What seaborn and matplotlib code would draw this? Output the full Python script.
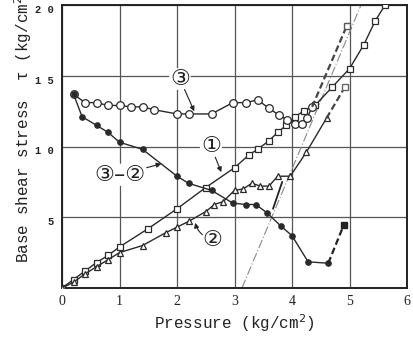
import matplotlib
matplotlib.use("Agg")
import matplotlib.pyplot as plt
import seaborn as sns

# ---- data ----
# Series 1 (open squares)
x1 = [0, 0.2, 0.4, 0.6, 0.8, 1.0, 1.5, 2.0, 2.5, 3.0, 3.25, 3.4, 3.6, 3.75, 3.9, 4.05, 4.2, 4.4, 4.7, 5.0, 5.25, 5.45, 5.62]
y1 = [0, 0.6, 1.2, 1.8, 2.3, 2.9, 4.2, 5.6, 7.1, 8.5, 9.4, 9.8, 10.4, 11.0, 11.5, 12.1, 12.5, 12.9, 14.2, 15.5, 17.2, 18.9, 20.0]

# Series 2 (open triangles)
x2 = [0, 0.2, 0.4, 0.6, 0.8, 1.0, 1.4, 1.8, 2.0, 2.2, 2.5, 2.65, 2.8, 3.0, 3.15, 3.3, 3.45, 3.6, 3.75, 3.97, 4.25, 4.6]
y2 = [0, 0.4, 1.0, 1.5, 2.0, 2.5, 3.0, 3.9, 4.3, 4.7, 5.4, 5.9, 6.1, 6.9, 7.0, 7.4, 7.2, 7.2, 7.9, 7.9, 9.6, 12.0]
x2_ext = [4.6, 4.92]
y2_ext = [12.0, 14.2]

# Series 3 (open circles)
x3 = [0.2, 0.4, 0.6, 0.8, 1.0, 1.2, 1.4, 1.6, 2.0, 2.2, 2.6, 2.97, 3.2, 3.4, 3.6, 3.78, 3.91, 4.05, 4.17, 4.26, 4.35]
y3 = [13.7, 13.1, 13.1, 12.9, 12.9, 12.8, 12.8, 12.6, 12.3, 12.3, 12.3, 13.1, 13.1, 13.3, 12.7, 12.2, 11.9, 11.6, 11.6, 12.0, 12.8]
x3_ext = [4.35, 4.95]
y3_ext = [12.8, 18.5]

# Series 3-2 (filled circles)
x4 = [0.2, 0.35, 0.6, 0.8, 1.0, 1.4, 2.0, 2.2, 2.6, 2.97, 3.2, 3.37, 3.57, 3.8, 4.0, 4.28, 4.63]
y4 = [13.7, 12.1, 11.5, 11.0, 10.3, 9.8, 7.9, 7.4, 6.9, 6.0, 5.9, 5.9, 5.3, 4.4, 3.7, 1.85, 1.75]
x4_ext = [4.63, 4.9]
y4_ext = [1.75, 4.45]

# thin reference line
ref_x = [3.13, 5.2]
ref_y = [0, 20]
ref_dash_x = [3.67, 3.83]
ref_dash_y = [5.6, 7.5]

xticks = [0, 1, 2, 3, 4, 5, 6]
yticks = [5, 10, 15, 20]
ytick_labels = ["5", "1 0", "1 5", "2 0"]

# ---- figure ----
sns.set_style("white")
plt.rcParams['font.family'] = ['Liberation Mono', 'DejaVu Sans']
CIRC = ['DejaVu Sans', 'Noto Sans CJK JP']

fig = plt.figure(figsize=(4.13, 3.37), dpi=100)
ax = fig.add_axes([62/413, 1-288/337, 345/413, 283/337])

LC = '#2a2a2a'
ax.plot(ref_x, ref_y, linestyle=(0, (8, 2, 1, 2)), color='#888888', lw=0.8, zorder=2)
ax.plot(ref_dash_x, ref_dash_y, color='#222222', lw=1.3, zorder=2)

sns.lineplot(x=x1, y=y1, ax=ax, estimator=None, sort=False, color=LC, lw=1.0,
             marker='s', markersize=4.5, markerfacecolor='white', markeredgecolor=LC,
             markeredgewidth=0.9, zorder=3)
sns.lineplot(x=x2, y=y2, ax=ax, estimator=None, sort=False, color=LC, lw=1.0,
             marker='^', markersize=5, markerfacecolor='white', markeredgecolor=LC,
             markeredgewidth=0.9, zorder=3)
sns.lineplot(x=x3, y=y3, ax=ax, estimator=None, sort=False, color=LC, lw=1.0,
             marker='o', markersize=5.5, markerfacecolor='white', markeredgecolor=LC,
             markeredgewidth=0.9, zorder=3)
sns.lineplot(x=x4, y=y4, ax=ax, estimator=None, sort=False, color=LC, lw=1.0,
             marker='o', markersize=4, markerfacecolor=LC, markeredgecolor=LC, zorder=3)

# dashed extensions
ax.plot(x2_ext, y2_ext, color='#444', lw=1.6, ls=(0, (3, 1.5)), zorder=3)
ax.plot(x2_ext[-1:], y2_ext[-1:], marker='s', ms=5, mfc='white', mec='#666', ls='none', zorder=4)
ax.plot(x3_ext, y3_ext, color='#444', lw=1.6, ls=(0, (3, 1.5)), zorder=3)
ax.plot(x3_ext[-1:], y3_ext[-1:], marker='s', ms=5, mfc='white', mec='#555', ls='none', zorder=4)
ax.plot(x4_ext, y4_ext, color='#222', lw=1.6, ls=(0, (3, 1.5)), zorder=3)
ax.plot(x4_ext[-1:], y4_ext[-1:], marker='s', ms=5, mfc='#222', mec='#222', ls='none', zorder=4)

ax.set_xlim(0, 6)
ax.set_ylim(0, 20)
ax.set_xticks(xticks)
ax.set_xticklabels([str(t) for t in xticks], fontsize=10, family='Liberation Serif')
ax.set_yticks(yticks)
ax.set_yticklabels(ytick_labels, fontsize=7.5, fontweight='bold', va='top')
ax.tick_params(axis='both', length=0, colors='#222')
ax.tick_params(axis='x', pad=5)
ax.tick_params(axis='y', pad=6)
ax.grid(True, color='#555555', lw=0.9, zorder=0)
ax.set_axisbelow(True)
for s in ax.spines.values():
    s.set_visible(True)
    s.set_color('#222')
    s.set_linewidth(1.4)

ax.set_xlabel("Pressure (kg/cm$^2$)", fontsize=11.5, labelpad=3, color='#222')
fig.text(23/413, 1-263/337, "Base shear stress  τ (kg/cm$^2$)", rotation=90,
         ha='center', va='bottom', fontsize=11.5, color='#222')

bb = dict(boxstyle='circle,pad=0.05', fc='white', ec='none')
ap = dict(arrowstyle='-|>', color='#222', lw=0.8, mutation_scale=7, shrinkA=0, shrinkB=1)
ax.annotate('③', xy=(2.31, 12.4), xytext=(2.05, 14.77), ha='center', va='center',
            fontsize=16, family=CIRC, color='#222', bbox=bb, arrowprops=ap, zorder=5)
ax.annotate('①', xy=(2.78, 8.1), xytext=(2.59, 10.0), ha='center', va='center',
            fontsize=16, family=CIRC, color='#222', bbox=bb, arrowprops=ap, zorder=5)
ax.annotate('②', xy=(2.31, 4.7), xytext=(2.62, 3.4), ha='center', va='center',
            fontsize=16, family=CIRC, color='#222', bbox=bb,
            arrowprops=dict(ap, connectionstyle='arc3,rad=-0.3'), zorder=5)
ax.annotate('③–②', xy=(1.75, 8.8), xytext=(1.0, 8.0), ha='center', va='center',
            fontsize=16, family=CIRC, color='#222',
            bbox=dict(boxstyle='round,pad=0.05', fc='white', ec='none'),
            arrowprops=ap, zorder=5)

fig.savefig("out.png", dpi=100)
